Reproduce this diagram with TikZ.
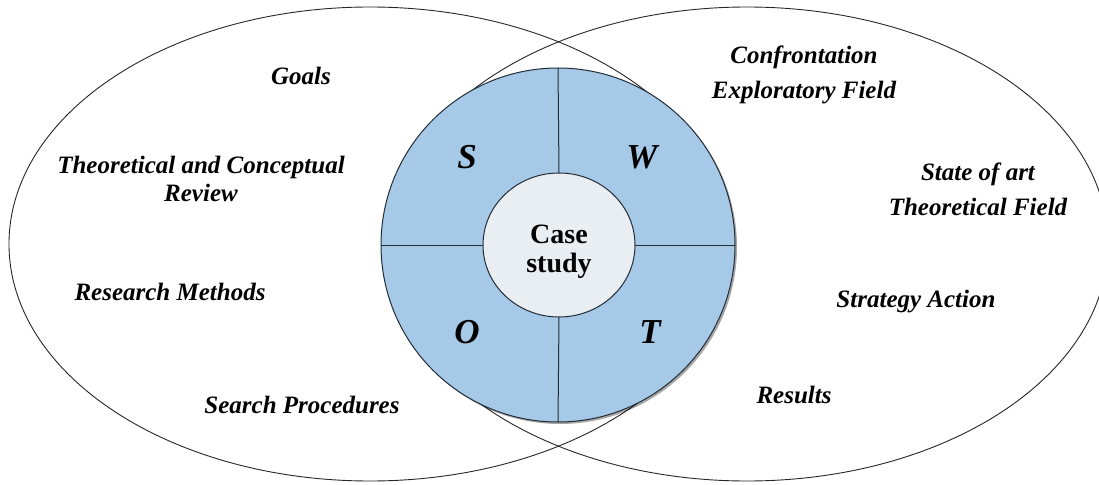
\documentclass[tikz,border=0pt]{standalone}
\usepackage{fontspec}
\setmainfont{Liberation Serif}
\usetikzlibrary{shapes.geometric,shadows}
\definecolor{swotblue}{RGB}{166,201,231}
\definecolor{casegray}{RGB}{232,238,242}
\definecolor{rimline}{RGB}{35,45,55}

\begin{document}
\begin{tikzpicture}[
  x=1pt, y=-1pt,
  field/.style={ellipse, draw=black!85, line width=0.9pt, inner sep=0pt, outer sep=0pt,
    minimum width=722pt, minimum height=474pt},
  fieldtext/.style={font=\fontsize{25}{28}\selectfont\bfseries\itshape, align=center, inner sep=0pt},
  swotletter/.style={font=\fontsize{35}{40}\selectfont\bfseries\itshape, inner sep=0pt},
  quadline/.style={draw=rimline, line width=1pt}
]
\useasboundingbox (0,0) rectangle (1099,484);
\clip (0,0) rectangle (1099,484);

% the two fields
\node[field] (leftfield) at (370,244) {};
\node[field] (rightfield) at (747,244) {};

% swot disc and case study core
\node[circle, draw=rimline, line width=1pt, fill=swotblue, minimum size=354pt,
  inner sep=0pt, outer sep=0pt,
  drop shadow={shadow xshift=2pt, shadow yshift=-2pt, fill=black, opacity=0.35}] (swot) at (558,245) {};
\node[ellipse, draw=rimline, line width=1pt, fill=casegray, minimum width=152pt,
  minimum height=144pt, inner sep=0pt, outer sep=0pt, align=center,
  font=\fontsize{28}{29}\selectfont\bfseries] (case) at (559,245) {\rule{0pt}{33pt}Case\\study};
\draw[quadline] (case.north) -- (swot.north);
\draw[quadline] (case.south) -- (swot.south);
\draw[quadline] (case.west) -- (swot.west);
\draw[quadline] (case.east) -- (swot.east);

\node[swotletter] (s) at (467,157) {S};
\node[swotletter] (w) at (642,157) {W};
\node[swotletter] (o) at (467,332) {O};
\node[swotletter] (t) at (650,332) {T};

% left field
\node[fieldtext] (goals) at (301,76) {Goals};
\node[fieldtext] (review) at (201,179) {Theoretical and Conceptual\\Review};
\node[fieldtext] (methods) at (170,292) {Research Methods};
\node[fieldtext] (procedures) at (302,405) {Search Procedures};

% right field
\node[fieldtext] (confront) at (804,75) {Confrontation\\[7pt]Exploratory Field};
\node[fieldtext] (stateart) at (978,189) {State of art\\[7pt]Theoretical Field};
\node[fieldtext] (strategy) at (916,302) {Strategy Action};
\node[fieldtext] (results) at (794,395) {Results};
\end{tikzpicture}
\end{document}
